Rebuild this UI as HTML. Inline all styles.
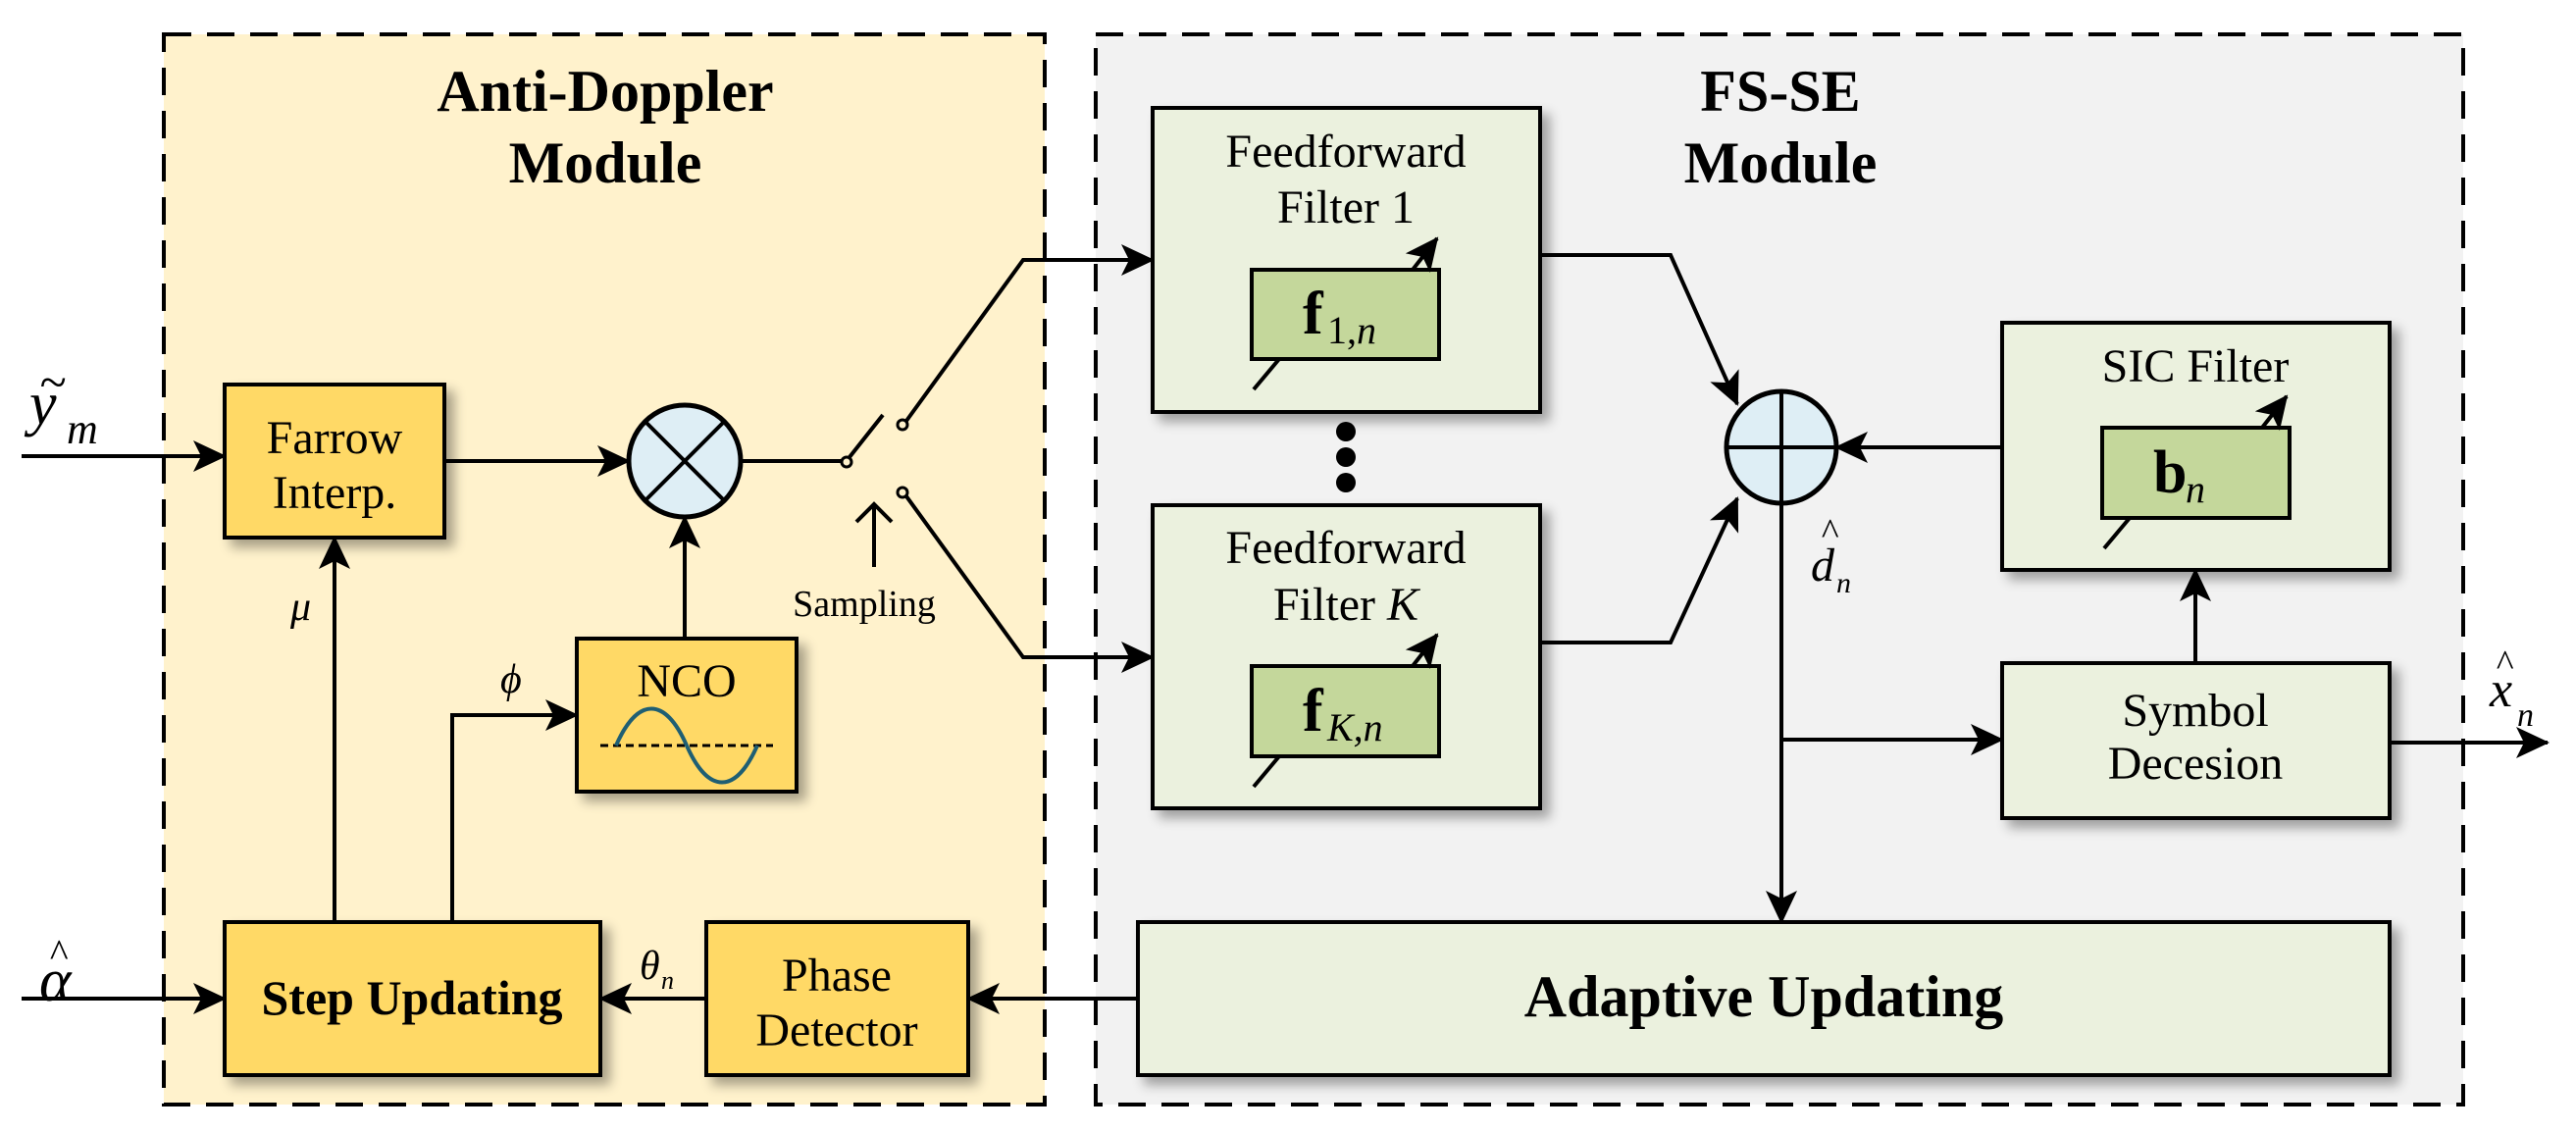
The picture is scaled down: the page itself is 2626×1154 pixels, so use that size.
<!DOCTYPE html>
<html><head><meta charset="utf-8"><style>
html,body{margin:0;padding:0;background:#fff}
svg{display:block}
text{font-family:"Liberation Serif","Times New Roman",serif;fill:#000}
</style></head><body>
<svg width="2626" height="1154" viewBox="0 0 2626 1154" xmlns="http://www.w3.org/2000/svg" font-family="Liberation Serif, serif">
<defs>
<marker id="ah" markerWidth="34" markerHeight="32" refX="32" refY="16" orient="auto" markerUnits="userSpaceOnUse">
<path d="M0,0 L34,16 L0,32 L8,16 Z" fill="#000"/></marker>
<filter id="sh" x="-10%" y="-10%" width="130%" height="130%">
<feGaussianBlur in="SourceAlpha" stdDeviation="6"/><feOffset dx="8" dy="8"/>
<feComponentTransfer><feFuncA type="linear" slope="0.35"/></feComponentTransfer>
<feMerge><feMergeNode/><feMergeNode in="SourceGraphic"/></feMerge></filter>
</defs>

<rect x="167" y="35" width="898" height="1091" fill="#fff2cc" stroke="#000" stroke-width="4" stroke-dasharray="28 16"/>
<rect x="1117" y="35" width="1394" height="1091" fill="#f2f2f2" stroke="#000" stroke-width="4" stroke-dasharray="28 16"/>

<text x="617" y="113" font-size="60" font-weight="bold" text-anchor="middle">Anti-Doppler</text>
<text x="617" y="186" font-size="60" font-weight="bold" text-anchor="middle">Module</text>
<text x="1815" y="113" font-size="60" font-weight="bold" text-anchor="middle">FS-SE</text>
<text x="1815" y="186" font-size="60" font-weight="bold" text-anchor="middle">Module</text>

<g stroke="#000" stroke-width="4">
<rect x="229" y="392" width="224" height="156" fill="#ffd966" filter="url(#sh)"/>
<rect x="588" y="651" width="224" height="156" fill="#ffd966" filter="url(#sh)"/>
<rect x="229" y="940" width="383" height="156" fill="#ffd966" filter="url(#sh)"/>
<rect x="720" y="940" width="267" height="156" fill="#ffd966" filter="url(#sh)"/>
<rect x="1175" y="110" width="395" height="310" fill="#ebf1de" filter="url(#sh)"/>
<rect x="1175" y="515" width="395" height="309" fill="#ebf1de" filter="url(#sh)"/>
<rect x="2041" y="329" width="395" height="252" fill="#ebf1de" filter="url(#sh)"/>
<rect x="2041" y="676" width="395" height="158" fill="#ebf1de" filter="url(#sh)"/>
<rect x="1160" y="940" width="1276" height="156" fill="#ebf1de" filter="url(#sh)"/>
<rect x="1276" y="275" width="191" height="91" fill="#c4d79b"/>
<rect x="1276" y="679" width="191" height="92" fill="#c4d79b"/>
<rect x="2143" y="436" width="191" height="92" fill="#c4d79b"/>
</g>

<g stroke="#000" stroke-width="4" fill="none">
<line x1="1278" y1="397" x2="1304" y2="366"/><line x1="1440" y1="275" x2="1465" y2="243" marker-end="url(#ah)"/>
<line x1="1278" y1="802" x2="1304" y2="771"/><line x1="1440" y1="679" x2="1465" y2="647" marker-end="url(#ah)"/>
<line x1="2145" y1="559" x2="2171" y2="528"/><line x1="2306" y1="436" x2="2331" y2="404" marker-end="url(#ah)"/>

<line x1="22" y1="465" x2="229" y2="465" marker-end="url(#ah)"/>
<line x1="22" y1="1018" x2="229" y2="1018" marker-end="url(#ah)"/>
<line x1="453" y1="470" x2="641" y2="470" marker-end="url(#ah)"/>
<line x1="698" y1="651" x2="698" y2="527" marker-end="url(#ah)"/>
<line x1="341" y1="940" x2="341" y2="548" marker-end="url(#ah)"/>
<polyline points="461,940 461,729 588,729" marker-end="url(#ah)"/>
<line x1="720" y1="1018" x2="612" y2="1018" marker-end="url(#ah)"/>
<line x1="1160" y1="1018" x2="987" y2="1018" marker-end="url(#ah)"/>
<line x1="755" y1="470" x2="858" y2="470"/>
<line x1="866" y1="466" x2="900" y2="423"/>
<polyline points="924,429 1043,265 1175,265" marker-end="url(#ah)"/>
<polyline points="924,506 1043,670 1175,670" marker-end="url(#ah)"/>
<line x1="891" y1="578" x2="891" y2="515"/>
<polyline points="873,532 891,514 909,532"/>
<polyline points="1570,260 1703,260 1771,412" marker-end="url(#ah)"/>
<polyline points="1570,655 1703,655 1771,508" marker-end="url(#ah)"/>
<line x1="2041" y1="456" x2="1872" y2="456" marker-end="url(#ah)"/>
<line x1="1816" y1="513" x2="1816" y2="940" marker-end="url(#ah)"/>
<line x1="1816" y1="754" x2="2041" y2="754" marker-end="url(#ah)"/>
<line x1="2238" y1="676" x2="2238" y2="581" marker-end="url(#ah)"/>
<line x1="2436" y1="757" x2="2597" y2="757" marker-end="url(#ah)"/>
</g>
<circle cx="863" cy="471" r="5" fill="#fff2cc" stroke="#000" stroke-width="3"/>
<circle cx="920" cy="433" r="5" fill="#fff2cc" stroke="#000" stroke-width="3"/>
<circle cx="920" cy="502" r="5" fill="#fff2cc" stroke="#000" stroke-width="3"/>

<circle cx="698" cy="470" r="57" fill="#deeef5" stroke="#000" stroke-width="5"/>
<g stroke="#000" stroke-width="4"><line x1="658" y1="430" x2="738" y2="510"/><line x1="738" y1="430" x2="658" y2="510"/></g>
<ellipse cx="1816" cy="456" rx="56" ry="57" fill="#deeef5" stroke="#000" stroke-width="5"/>
<g stroke="#000" stroke-width="4"><line x1="1760" y1="456" x2="1872" y2="456"/><line x1="1816" y1="399" x2="1816" y2="513"/></g>

<circle cx="1372" cy="440" r="10" fill="#000"/><circle cx="1372" cy="466" r="10" fill="#000"/><circle cx="1372" cy="492" r="10" fill="#000"/>

<line x1="612" y1="760" x2="788" y2="760" stroke="#000" stroke-width="3" stroke-dasharray="8 5"/>
<path d="M628,760 C650,710 678,710 700,760 C722,810 750,810 772,760" fill="none" stroke="#1f5f73" stroke-width="4"/>

<g font-size="48" text-anchor="middle">
<text x="341" y="462">Farrow</text><text x="341" y="518">Interp.</text>
<text x="700" y="710">NCO</text>
<text x="853" y="1010">Phase</text><text x="853" y="1066">Detector</text>
<text x="1372" y="170">Feedforward</text><text x="1372" y="227">Filter 1</text>
<text x="1372" y="574">Feedforward</text><text x="1372" y="632">Filter <tspan font-style="italic">K</tspan></text>
<text x="2238" y="389">SIC Filter</text>
<text x="2238" y="740">Symbol</text><text x="2238" y="794">Decesion</text>
</g>
<text x="881" y="628" font-size="38" text-anchor="middle">Sampling</text>
<text x="420" y="1034" font-size="50" font-weight="bold" text-anchor="middle">Step Updating</text>
<text x="1798" y="1036" font-size="60" font-weight="bold" text-anchor="middle">Adaptive Updating</text>

<g font-size="62" font-weight="bold"><text x="1328" y="340">f</text><text x="1328" y="745">f</text><text x="2195" y="502">b</text></g>
<g font-size="40"><text x="1353" y="350">1,<tspan font-style="italic">n</tspan></text>
<text x="1353" y="755" font-style="italic">K,n</text>
<text x="2228" y="512" font-style="italic">n</text></g>

<g font-style="italic">
<text x="30" y="432" font-size="62">y</text><text x="40" y="406" font-size="50">~</text><text x="68" y="452" font-size="44">m</text>
<text x="40" y="1020" font-size="62">α</text><text x="50" y="985" font-size="40">^</text>
<text x="296" y="632" font-size="42">μ</text>
<text x="510" y="706" font-size="42">ϕ</text>
<text x="652" y="998" font-size="42">θ</text><text x="674" y="1008" font-size="26">n</text>
<text x="1846" y="592" font-size="48">d</text><text x="1856" y="555" font-size="38">^</text><text x="1872" y="604" font-size="30">n</text>
<text x="2538" y="720" font-size="52">x</text><text x="2544" y="689" font-size="38">^</text><text x="2566" y="740" font-size="34">n</text>
</g>
</svg>
</body></html>
